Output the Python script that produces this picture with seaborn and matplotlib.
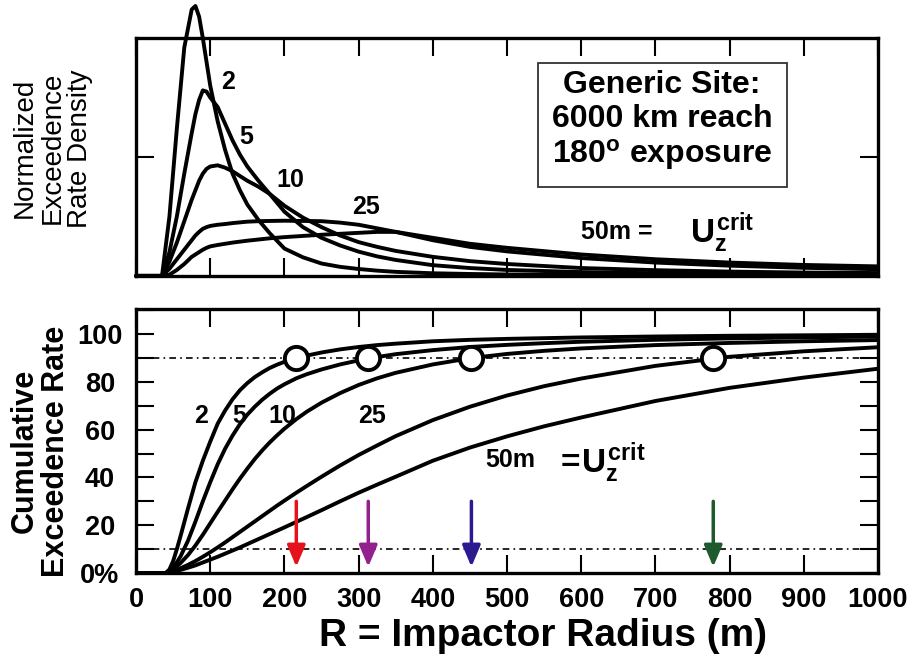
import matplotlib
matplotlib.use("Agg")
import matplotlib.pyplot as plt
import pandas as pd
import seaborn as sns
from matplotlib.patches import Rectangle
from matplotlib.ticker import MultipleLocator

# curve labels (critical radius U_z^crit, m)
sizes = ["2", "5", "10", "25", "50"]

# top panel: normalized exceedence rate density
radius_density = [0, 35, 45, 55, 65, 75, 80, 85, 90, 95, 100, 110, 120, 130, 140, 150, 165,
                  180, 200, 225, 250, 275, 300, 325, 350, 400, 450, 500, 600, 700, 800, 900, 1000]
density_2 = [0, 0, 0.25, 0.62, 0.96, 1.12, 1.135, 1.09, 1.0, 0.9, 0.8, 0.65, 0.53, 0.43, 0.36, 0.30, 0.235,
             0.18, 0.115, 0.078, 0.052, 0.038, 0.029, 0.022, 0.017, 0.011, 0.008, 0.006, 0.004, 0.003, 0.002, 0.0015, 0.001]
density_5 = [0, 0, 0.1, 0.25, 0.43, 0.6, 0.68, 0.74, 0.78, 0.775, 0.75, 0.71, 0.64, 0.57, 0.51, 0.46, 0.4,
             0.345, 0.27, 0.205, 0.16, 0.128, 0.102, 0.082, 0.067, 0.045, 0.033, 0.025, 0.016, 0.011, 0.008, 0.006, 0.005]
density_10 = [0, 0, 0.06, 0.14, 0.23, 0.32, 0.36, 0.4, 0.43, 0.45, 0.46, 0.465, 0.455, 0.44, 0.42, 0.4, 0.375,
              0.345, 0.295, 0.245, 0.205, 0.17, 0.142, 0.122, 0.105, 0.08, 0.062, 0.05, 0.033, 0.024, 0.018, 0.014, 0.012]
density_25 = [0, 0, 0.03, 0.07, 0.11, 0.15, 0.17, 0.185, 0.198, 0.205, 0.21, 0.215, 0.218, 0.222, 0.225, 0.228, 0.23,
              0.231, 0.232, 0.231, 0.23, 0.224, 0.215, 0.2, 0.185, 0.15, 0.122, 0.103, 0.075, 0.056, 0.043, 0.034, 0.028]
density_50 = [0, 0, 0.005, 0.025, 0.05, 0.08, 0.09, 0.1, 0.11, 0.118, 0.124, 0.13, 0.135, 0.14, 0.144, 0.148, 0.153,
              0.158, 0.163, 0.168, 0.173, 0.177, 0.181, 0.185, 0.185, 0.16, 0.135, 0.118, 0.09, 0.07, 0.056, 0.046, 0.04]

# bottom panel: cumulative exceedence rate (%)
radius_cum = [0, 40, 45, 50, 55, 60, 70, 80, 90, 100, 110, 120, 130, 140, 150, 160, 170, 180,
              190, 200, 216, 230, 250, 275, 300, 325, 350, 400, 450, 500, 550, 600, 700, 800, 900, 1000]
cum_2 = [0, 0, 1.5, 5, 10, 15.5, 27, 38, 47, 55, 62.5, 68, 72.7, 76.5, 79.5, 82, 84, 85.8,
         87.2, 88.4, 90, 91, 92.3, 93.6, 94.6, 95.4, 96, 97, 97.6, 98, 98.3, 98.6, 99, 99.3, 99.5, 99.7]
cum_5 = [0, 0, 0.8, 2.5, 4.5, 7, 13.5, 21.5, 30, 38, 45.5, 52, 57.5, 62.3, 66.3, 69.6, 72.5, 75,
         77.2, 79, 81.5, 83.2, 85.2, 87.3, 89, 90.4, 91.6, 93.3, 94.6, 95.5, 96.2, 96.8, 97.6, 98.2, 98.6, 99]
cum_10 = [0, 0, 0.5, 1.5, 2.8, 4.2, 7.5, 11.5, 16, 20.8, 25.6, 30.3, 35, 39.5, 43.7, 47.7, 51.3, 54.6,
          57.6, 60.4, 64.4, 67.5, 71.3, 75.3, 78.7, 81.5, 83.8, 87.3, 89.9, 91.7, 93, 94, 95.4, 96.3, 97, 97.5]
cum_25 = [0, 0, 0.3, 0.8, 1.4, 2.0, 3.4, 5, 6.8, 8.7, 10.7, 12.8, 15, 17.2, 19.4, 21.6, 23.8, 26,
          28.2, 30.3, 33.6, 36.4, 40.3, 45, 49.4, 53.4, 57.3, 64, 69.6, 74.3, 78.2, 81.4, 86.7, 90.5, 92.8, 94.5]
cum_50 = [0, 0, 0.2, 0.5, 0.9, 1.3, 2.2, 3.2, 4.4, 5.6, 6.8, 8.1, 9.4, 10.7, 12.1, 13.5, 14.9, 16.3,
          17.7, 19.1, 21.4, 23.4, 26.3, 30, 33.6, 37, 40.3, 47, 52.5, 57.2, 61.4, 65.1, 72, 77.5, 81.8, 85.5]

# radius where each curve hits 90 %, with arrow colours
crit_radius = [216, 313, 452, 778]
crit_level = 90
low_level = 10
arrow_colors = ["#e5121c", "#93208f", "#2b1b8f", "#1d5a2e"]

dens = pd.concat([pd.DataFrame({"radius": radius_density, "value": v, "size": s})
                  for s, v in zip(sizes, [density_2, density_5, density_10, density_25, density_50])])
cum = pd.concat([pd.DataFrame({"radius": radius_cum, "value": v, "size": s})
                 for s, v in zip(sizes, [cum_2, cum_5, cum_10, cum_25, cum_50])])

sns.set_style("ticks")
plt.rcParams["font.family"] = ["Liberation Sans", "DejaVu Sans"]
plt.rcParams["mathtext.fontset"] = "custom"
plt.rcParams["mathtext.rm"] = "Liberation Sans:bold"
plt.rcParams["mathtext.it"] = "Liberation Sans:bold"
plt.rcParams["mathtext.bf"] = "Liberation Sans:bold"
for key in ("text.color", "axes.labelcolor", "xtick.color", "ytick.color", "axes.edgecolor"):
    plt.rcParams[key] = "black"

fig = plt.figure(figsize=(9.07, 6.68), dpi=100)
ax_top = fig.add_axes([0.15, 0.587, 0.818, 0.356])
ax_bot = fig.add_axes([0.15, 0.1422, 0.818, 0.3952])

line_kws = dict(lw=2.8, solid_joinstyle="round", solid_capstyle="round")
black = ["black"] * len(sizes)

sns.lineplot(data=dens, x="radius", y="value", hue="size", hue_order=sizes, palette=black,
             legend=False, errorbar=None, ax=ax_top, clip_on=False, **line_kws)

for level in (low_level, crit_level):
    ax_bot.axhline(level, color="black", lw=1.2, ls=(0, (4, 2.5, 1, 2.5)), zorder=1)
sns.lineplot(data=cum, x="radius", y="value", hue="size", hue_order=sizes, palette=black,
             legend=False, errorbar=None, ax=ax_bot, zorder=2, **line_kws)
sns.scatterplot(x=crit_radius, y=[crit_level] * len(crit_radius), s=280, color="white",
                edgecolor="black", linewidth=2.8, zorder=5, ax=ax_bot)

for xr, c in zip(crit_radius, arrow_colors):
    ax_bot.annotate("", xy=(xr, 2.6), xytext=(xr, 30),
                    arrowprops=dict(arrowstyle="-|>,head_length=1.3,head_width=0.55",
                                    color=c, lw=2.5, shrinkA=0, shrinkB=0, mutation_scale=10),
                    zorder=6)

# axes styling
for ax in (ax_top, ax_bot):
    ax.set_xlim(0, 1000)
    ax.xaxis.set_major_locator(MultipleLocator(100))
    ax.tick_params(axis="both", which="both", direction="in", top=True, right=True,
                   width=1.5, length=13, labelsize=19.5, colors="black")
    for sp in ax.spines.values():
        sp.set_linewidth(2.4)
        sp.set_color("black")
    ax.set_xlabel("")
    ax.set_ylabel("")

ax_top.set_ylim(0, 1)
ax_top.set_yticks([0.5])
ax_top.tick_params(labelbottom=False, labelleft=False)

ax_bot.set_ylim(0, 110.5)
ax_bot.set_yticks([0, 20, 40, 60, 80, 100])
ax_bot.set_yticklabels(["0%", "20", "40", "60", "80", "100"])
ax_bot.yaxis.set_minor_locator(MultipleLocator(10))
ax_bot.tick_params(axis="x", pad=10)
ax_bot.tick_params(axis="y", pad=26)
plt.setp(ax_bot.get_yticklabels(), ha="center", fontweight="bold")
plt.setp(ax_bot.get_xticklabels(), fontweight="bold")

# curve labels
lab = dict(fontsize=18, fontweight="bold", ha="center", va="center")
for s, x, y in zip(sizes[:4], [123.6, 148, 207.5, 310], [0.816, 0.583, 0.403, 0.291]):
    ax_top.text(x, y, s, **lab)
for s, x in zip(sizes[:4], [87.6, 139.3, 197.7, 317.6]):
    ax_bot.text(x, 65.7, s, **lab)

ax_top.text(648, 0.185, "50m =", **lab)
ax_top.text(747, 0.139, r"$U_z^{crit}$", fontsize=24, ha="left", va="baseline")
ax_bot.text(505, 47.3, "50m", **lab)
ax_bot.text(565, 41.8, r"$=\!U_z^{crit}$", fontsize=24, ha="left", va="baseline")

ax_top.add_patch(Rectangle((0.542, 0.374), 0.335, 0.521, transform=ax_top.transAxes,
                           fill=False, lw=1.3, ec="#333333"))
ax_top.text(0.709, 0.65, "Generic Site:\n6000 km reach\n180$^{o}$ exposure",
            transform=ax_top.transAxes, fontsize=23, fontweight="bold",
            ha="center", va="center", linespacing=1.15, multialignment="center")

fig.text(0.058, 0.778, "Normalized\nExceedence\nRate Density", rotation=90, fontsize=20,
         ha="center", va="center", linespacing=1.08, multialignment="center")
fig.text(0.045, 0.325, "Cumulative\nExceedence Rate", rotation=90, fontsize=22,
         fontweight="bold", ha="center", va="center", linespacing=1.05, multialignment="center")
fig.text(0.599, 0.048, "R = Impactor Radius (m)", fontsize=28, fontweight="bold",
         ha="center", va="center")

fig.savefig("out.png", dpi=100)
